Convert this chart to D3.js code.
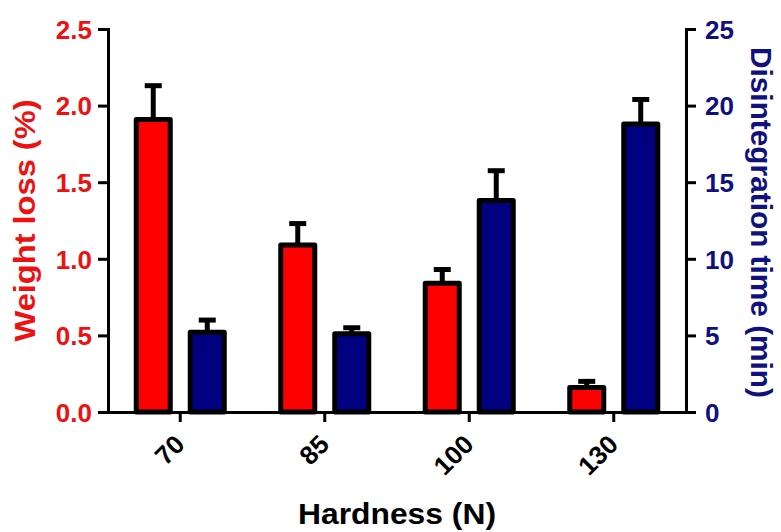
<!DOCTYPE html>
<html>
<head>
<meta charset="utf-8">
<script src="https://cdn.jsdelivr.net/npm/d3@7"></script>
<style>
  body { margin: 0; background: #fff; }
  text { font-family: "Liberation Sans", Arial, sans-serif; font-weight: bold; }
</style>
</head>
<body>
<div id="chart"></div>
<script>
// values
var categories = ["70", "85", "100", "130"];
var weightLoss = [1.91, 1.09, 0.84, 0.16];
var weightLossErr = [0.22, 0.14, 0.09, 0.04];
var disTime = [5.2, 5.1, 13.8, 18.8];
var disTimeErr = [0.8, 0.4, 1.95, 1.6];
var leftTicks = [0, 0.5, 1.0, 1.5, 2.0, 2.5];
var rightTicks = [0, 5, 10, 15, 20, 25];

var width = 781, height = 532;
var margin = {top: 29, right: 95, bottom: 120, left: 108};
var red = "#ff0000", navy = "#000080", redText = "#ee1111", navyText = "#10107e";

var svg = d3.select("#chart").append("svg")
    .attr("width", width)
    .attr("height", height);

var x0 = d3.scaleBand()
    .domain(categories)
    .range([margin.left, width - margin.right])
    .padding(0);

var x1 = d3.scaleBand()
    .domain(["wl", "dt"])
    .range([0, x0.bandwidth()])
    .paddingInner(0.37)
    .paddingOuter(0.523);

var yL = d3.scaleLinear().domain([0, 2.5]).range([height - margin.bottom, margin.top]);
var yR = d3.scaleLinear().domain([0, 25]).range([height - margin.bottom, margin.top]);

// build rows for both series
var rows = [];
categories.forEach(function(c, i) {
  rows.push({cat: c, key: "wl", v: weightLoss[i], e: weightLossErr[i], y: yL, fill: red});
  rows.push({cat: c, key: "dt", v: disTime[i], e: disTimeErr[i], y: yR, fill: navy});
});

var bars = svg.append("g").selectAll("g")
    .data(rows)
    .enter().append("g");

function cx(d) { return x0(d.cat) + x1(d.key) + x1.bandwidth() / 2; }

// error bars (upper only)
bars.append("line")
    .attr("x1", cx)
    .attr("x2", cx)
    .attr("y1", function(d) { return d.y(d.v); })
    .attr("y2", function(d) { return d.y(d.v + d.e); })
    .attr("stroke", "#000")
    .attr("stroke-width", 5);

bars.append("line")
    .attr("x1", function(d) { return cx(d) - 8.5; })
    .attr("x2", function(d) { return cx(d) + 8.5; })
    .attr("y1", function(d) { return d.y(d.v + d.e); })
    .attr("y2", function(d) { return d.y(d.v + d.e); })
    .attr("stroke", "#000")
    .attr("stroke-width", 5);

bars.append("rect")
    .attr("x", function(d) { return x0(d.cat) + x1(d.key); })
    .attr("width", x1.bandwidth())
    .attr("y", function(d) { return d.y(d.v); })
    .attr("height", function(d) { return d.y(0) - d.y(d.v); })
    .attr("fill", function(d) { return d.fill; })
    .attr("stroke", "#000")
    .attr("stroke-width", 5)
    .attr("stroke-linejoin", "round");

// left axis
var axisL = svg.append("g")
    .attr("transform", "translate(" + margin.left + ",0)")
    .call(d3.axisLeft(yL).tickValues(leftTicks).tickFormat(d3.format(".1f")).tickSize(10).tickSizeOuter(0).tickPadding(6));
axisL.selectAll("text").attr("fill", redText).style("font-size", "26px").attr("dy", "0.36em");

// right axis
var axisR = svg.append("g")
    .attr("transform", "translate(" + (width - margin.right) + ",0)")
    .call(d3.axisRight(yR).tickValues(rightTicks).tickSize(10).tickSizeOuter(0).tickPadding(9));
axisR.selectAll("text").attr("fill", navyText).style("font-size", "26px").attr("dy", "0.36em");

// bottom axis
var axisB = svg.append("g")
    .attr("transform", "translate(0," + (height - margin.bottom) + ")")
    .call(d3.axisBottom(x0).tickSize(10).tickSizeOuter(0));
axisB.selectAll("text")
    .style("font-size", "26px")
    .attr("fill", "#000")
    .attr("text-anchor", "end")
    .attr("dy", null)
    .attr("y", null)
    .attr("transform", "translate(6,34) rotate(-45)");

svg.selectAll(".domain, .tick line")
    .attr("stroke", "#000")
    .attr("stroke-width", 3);
svg.selectAll(".domain").attr("stroke-linecap", "square");

// axis titles
svg.append("text")
    .attr("transform", "translate(35," + ((yL(0) + yL(2.5)) / 2) + ") rotate(-90)")
    .attr("text-anchor", "middle")
    .attr("fill", redText)
    .style("font-size", "29px")
    .attr("textLength", 242)
    .attr("lengthAdjust", "spacingAndGlyphs")
    .text("Weight loss (%)");

svg.append("text")
    .attr("transform", "translate(751," + ((yR(0) + yR(25)) / 2 + 2) + ") rotate(90)")
    .attr("text-anchor", "middle")
    .attr("fill", navyText)
    .style("font-size", "29px")
    .attr("textLength", 351)
    .attr("lengthAdjust", "spacingAndGlyphs")
    .text("Disintegration time (min)");

svg.append("text")
    .attr("x", (margin.left + width - margin.right) / 2)
    .attr("y", 524)
    .attr("text-anchor", "middle")
    .attr("fill", "#000")
    .style("font-size", "29px")
    .attr("textLength", 198)
    .attr("lengthAdjust", "spacingAndGlyphs")
    .text("Hardness (N)");
</script>
</body>
</html>
